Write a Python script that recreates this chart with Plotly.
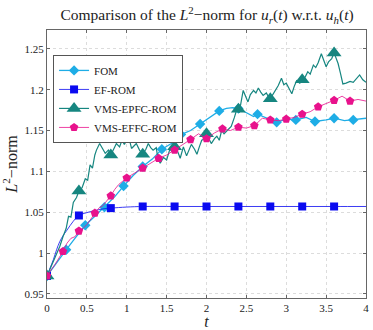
import plotly.graph_objects as go

# FOM (full order model) curve and its marker points
fom_t = [0, 0.1, 0.24, 0.35, 0.48, 0.6, 0.72, 0.85, 0.96, 1.08, 1.2, 1.32, 1.44, 1.56, 1.68,
         1.8, 1.92, 2.04, 2.16, 2.25, 2.33, 2.42, 2.5, 2.59, 2.64, 2.75, 2.88, 3.0, 3.12,
         3.25, 3.36, 3.5, 3.6, 3.73, 3.84, 4.0]
fom_y = [0.972, 0.986, 1.004, 1.018, 1.034, 1.045, 1.056, 1.069, 1.082, 1.095, 1.106, 1.115,
         1.127, 1.134, 1.145, 1.150, 1.158, 1.166, 1.174, 1.177, 1.178, 1.176, 1.172, 1.167,
         1.170, 1.165, 1.160, 1.164, 1.163, 1.166, 1.161, 1.163, 1.165, 1.162, 1.163, 1.165]
fom_mt = [0, 0.24, 0.48, 0.72, 0.96, 1.2, 1.44, 1.68, 1.92, 2.16, 2.4, 2.64, 2.88, 3.12,
          3.36, 3.6, 3.84]
fom_my = [0.972, 1.004, 1.034, 1.056, 1.082, 1.106, 1.127, 1.145, 1.158, 1.174, 1.177,
          1.170, 1.160, 1.163, 1.161, 1.165, 1.163]

# EF-ROM
ef_t = [0, 0.04, 0.08, 0.12, 0.16, 0.2, 0.25, 0.33, 0.4, 0.5, 0.6, 0.7, 0.8, 1.0, 1.2,
        1.6, 2.0, 2.4, 2.8, 3.2, 3.6, 4.0]
ef_y = [0.972, 0.982, 0.992, 1.004, 1.014, 1.021, 1.028, 1.039, 1.046, 1.0495, 1.052,
        1.054, 1.055, 1.0563, 1.057, 1.057, 1.057, 1.057, 1.057, 1.057, 1.057, 1.057]
ef_mt = [0, 0.4, 0.8, 1.2, 1.6, 2.0, 2.4, 2.8, 3.2, 3.6]
ef_my = [0.972, 1.046, 1.055, 1.057, 1.057, 1.057, 1.057, 1.057, 1.057, 1.057]

# VMS-EPFC-ROM (noisy)
epfc_t = [0, 0.06, 0.12, 0.16, 0.2, 0.24, 0.27, 0.3, 0.33, 0.37, 0.4, 0.44, 0.48, 0.51,
          0.54, 0.57, 0.6, 0.62, 0.66, 0.69, 0.73, 0.77, 0.8, 0.84, 0.87, 0.91, 0.94, 0.97,
          1.01, 1.04, 1.06, 1.09, 1.12, 1.16, 1.2, 1.24, 1.27, 1.3, 1.33, 1.37, 1.39, 1.42,
          1.46, 1.5, 1.54, 1.57, 1.6, 1.64, 1.67, 1.71, 1.75, 1.78, 1.81, 1.85, 1.88, 1.91,
          1.94, 1.98, 2.0, 2.03, 2.06, 2.1, 2.13, 2.16, 2.19, 2.22, 2.25, 2.28, 2.31, 2.35,
          2.38, 2.41, 2.44, 2.46, 2.49, 2.52, 2.55, 2.59, 2.62, 2.65, 2.68, 2.71, 2.75, 2.79,
          2.82, 2.86, 2.9, 2.94, 2.97, 3.0, 3.04, 3.07, 3.1, 3.13, 3.17, 3.21, 3.24, 3.27,
          3.3, 3.34, 3.37, 3.4, 3.42, 3.44, 3.47, 3.5, 3.53, 3.57, 3.6, 3.63, 3.65, 3.68,
          3.71, 3.75, 3.8, 3.84, 3.88, 3.92, 3.96, 4.0]
epfc_y = [0.972, 0.985, 1.000, 1.008, 1.020, 1.030, 1.045, 1.044, 1.062, 1.068, 1.076,
          1.080, 1.091, 1.089, 1.108, 1.104, 1.120, 1.126, 1.134, 1.128, 1.122, 1.126,
          1.120, 1.128, 1.134, 1.130, 1.138, 1.133, 1.140, 1.136, 1.128, 1.131, 1.134,
          1.126, 1.121, 1.127, 1.134, 1.129, 1.126, 1.129, 1.116, 1.110, 1.117, 1.114,
          1.127, 1.124, 1.130, 1.124, 1.116, 1.130, 1.119, 1.126, 1.133, 1.127, 1.121,
          1.130, 1.138, 1.140, 1.146, 1.140, 1.134, 1.140, 1.143, 1.138, 1.150, 1.146,
          1.149, 1.152, 1.155, 1.166, 1.176, 1.172, 1.186, 1.199, 1.192, 1.185, 1.194,
          1.199, 1.196, 1.202, 1.197, 1.193, 1.196, 1.189, 1.192, 1.198, 1.205, 1.214,
          1.206, 1.208, 1.200, 1.195, 1.204, 1.211, 1.208, 1.212, 1.216, 1.222, 1.219,
          1.230, 1.227, 1.233, 1.238, 1.244, 1.236, 1.228, 1.234, 1.238, 1.245, 1.238,
          1.232, 1.220, 1.207, 1.208, 1.210, 1.209, 1.213, 1.218, 1.212, 1.209]
epfc_mt = [0, 0.4, 0.8, 1.2, 1.6, 2.0, 2.4, 2.8, 3.2, 3.6]
epfc_my = [0.972, 1.076, 1.120, 1.121, 1.130, 1.146, 1.176, 1.189, 1.212, 1.245]

# VMS-EFFC-ROM
effc_t = [0, 0.1, 0.2, 0.25, 0.3, 0.35, 0.4, 0.45, 0.5, 0.55, 0.6, 0.65, 0.7, 0.75, 0.8,
          0.85, 0.9, 0.95, 1.0, 1.1, 1.2, 1.3, 1.4, 1.5, 1.6, 1.7, 1.8, 1.9, 2.0, 2.1, 2.2,
          2.3, 2.4, 2.5, 2.6, 2.7, 2.8, 2.9, 3.0, 3.1, 3.2, 3.3, 3.4, 3.5, 3.6, 3.7, 3.8,
          3.9, 4.0]
effc_y = [0.972, 0.986, 1.002, 1.012, 1.018, 1.020, 1.027, 1.030, 1.035, 1.042, 1.049,
          1.055, 1.058, 1.064, 1.070, 1.078, 1.084, 1.088, 1.092, 1.098, 1.104, 1.110,
          1.116, 1.120, 1.126, 1.132, 1.139, 1.146, 1.140, 1.147, 1.152, 1.150, 1.154,
          1.153, 1.156, 1.165, 1.163, 1.162, 1.164, 1.166, 1.170, 1.173, 1.179, 1.183,
          1.187, 1.192, 1.186, 1.188, 1.186]
effc_mt = [0, 0.2, 0.4, 0.6, 0.8, 1.0, 1.2, 1.4, 1.6, 1.8, 2.0, 2.2, 2.4, 2.6, 2.8, 3.0,
           3.2, 3.4, 3.6, 3.8]
effc_my = [0.972, 1.002, 1.027, 1.049, 1.070, 1.092, 1.104, 1.116, 1.126, 1.139, 1.140,
           1.152, 1.154, 1.156, 1.163, 1.164, 1.170, 1.179, 1.187, 1.186]

x_ticks = [0, 0.5, 1, 1.5, 2, 2.5, 3, 3.5, 4]
x_labels = ["0", "0.5", "1", "1.5", "2", "2.5", "3", "3.5", "4"]
y_ticks = [0.95, 1.0, 1.05, 1.1, 1.15, 1.2, 1.25]
y_labels = ["0.95", "1", "1.05", "1.1", "1.15", "1.2", "1.25"]

SERIF = "Liberation Serif, DejaVu Serif, serif"
TXT = "#222"

series = [
    ("FOM", fom_t, fom_y, fom_mt, fom_my, "#1EADE6", "diamond", 8, 1.3),
    ("EF-ROM", ef_t, ef_y, ef_mt, ef_my, "#0A0AF0", "square", 8, 0.8),
    ("VMS-EPFC-ROM", epfc_t, epfc_y, epfc_mt, epfc_my, "#168680", "triangle-up", 13, 1.2),
    ("VMS-EFFC-ROM", effc_t, effc_y, effc_mt, effc_my, "#E8128C", "pentagon", 9, 0.8),
]

fig = go.Figure()

for name, t, y, mt, my, color, symbol, size, lw in series:
    shape = "spline" if name == "EF-ROM" else "linear"
    fig.add_trace(go.Scatter(x=t, y=y, mode="lines", showlegend=False,
                             line=dict(color=color, width=lw, shape=shape)))
    fig.add_trace(go.Scatter(x=mt, y=my, mode="markers", showlegend=False,
                             marker=dict(color=color, symbol=symbol, size=size, line=dict(width=0))))
    # legend entry only
    fig.add_trace(go.Scatter(x=[None], y=[None], mode="lines+markers", name=name,
                             line=dict(color=color, width=lw),
                             marker=dict(color=color, symbol=symbol, size=size, line=dict(width=0))))

axis_common = dict(
    showline=True, linecolor="#666", linewidth=1, mirror="ticks",
    ticks="inside", ticklen=3, tickcolor="#666",
    showgrid=True, gridcolor="#dcdcdc", griddash="3px,3px", gridwidth=1,
    zeroline=False, automargin=False,
    tickfont=dict(family=SERIF, size=11, color=TXT),
)

fig.update_xaxes(range=[0, 4], tickvals=x_ticks, ticktext=x_labels,
                 title=dict(text="<i>t</i>", font=dict(family=SERIF, size=16, color=TXT)),
                 **axis_common)
fig.update_yaxes(range=[0.945, 1.273], tickvals=y_ticks, ticktext=y_labels,
                 title=dict(text="<i>L</i><sup>2</sup>−norm", font=dict(family=SERIF, size=16, color=TXT)),
                 **axis_common)

fig.update_layout(
    width=373, height=330,
    margin=dict(l=47, r=7, t=30, b=32),
    paper_bgcolor="white", plot_bgcolor="white",
    hovermode=False,
    title=dict(text="Comparison of the <i>L</i><sup>2</sup>−norm for <i>u</i><sub><i>r</i></sub>(<i>t</i>) w.r.t. <i>u</i><sub><i>h</i></sub>(<i>t</i>)",
               font=dict(family=SERIF, size=15.5, color=TXT), x=0.555, xanchor="center", y=0.955, yanchor="middle"),
    legend=dict(x=0.019, y=0.907, xanchor="left", yanchor="top",
                bgcolor="white", bordercolor="#555", borderwidth=1,
                font=dict(family=SERIF, size=11, color=TXT),
                tracegroupgap=0, itemwidth=30),
    showlegend=True,
)

fig.write_html("out.html", config={"displayModeBar": False},
               post_script="document.body.style.margin='0';")
